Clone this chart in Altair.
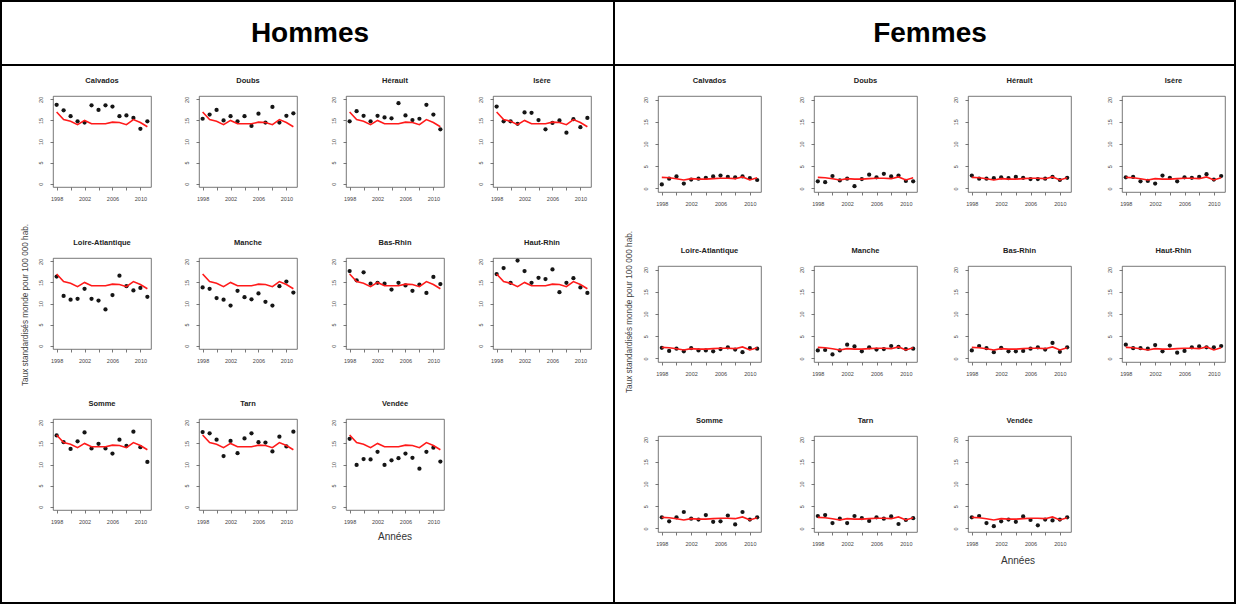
import altair as alt
import pandas as pd

# ---------------------------------------------------------------- data
YEARS = [1998, 1999, 2000, 2001, 2002, 2003, 2004, 2005, 2006, 2007, 2008, 2009, 2010, 2011]
TICK_YEARS = [1998, 2000, 2002, 2004, 2006, 2008, 2010]
Y_TICKS = [0, 5, 10, 15, 20]

DEPARTEMENTS = ["Calvados", "Doubs", "Hérault", "Isère",
                "Loire-Atlantique", "Manche", "Bas-Rhin", "Haut-Rhin",
                "Somme", "Tarn", "Vendée"]

# reference curve (red line) for each sex
REF_HOMMES = [17.0, 15.2, 14.8, 14.0, 15.0, 14.2, 14.2, 14.2, 14.6, 14.5, 14.0, 15.2, 14.5, 13.5]
REF_FEMMES = [2.5, 2.4, 2.2, 1.9, 2.2, 2.1, 2.1, 2.2, 2.3, 2.3, 2.2, 2.6, 1.9, 2.4]

# men, standardised rates per department
H_CALVADOS = [18.7, 17.4, 16.0, 14.8, 14.5, 18.6, 17.5, 18.6, 18.3, 16.0, 16.2, 15.6, 13.0, 14.8]
H_DOUBS = [15.4, 16.4, 17.5, 15.0, 16.0, 14.8, 16.0, 13.7, 16.6, 14.5, 18.2, 14.5, 16.1, 16.7]
H_HERAULT = [14.8, 17.2, 16.1, 14.8, 16.1, 15.7, 15.5, 19.1, 16.2, 15.1, 15.4, 18.7, 16.4, 12.9]
H_ISERE = [18.3, 14.8, 14.8, 14.2, 16.9, 16.8, 15.1, 12.9, 14.4, 15.0, 12.1, 15.3, 13.4, 15.6]
H_LOIRE_ATL = [16.4, 11.8, 10.9, 11.1, 13.5, 11.1, 10.7, 8.6, 12.0, 16.6, 14.1, 13.1, 13.7, 11.6]
H_MANCHE = [13.8, 13.5, 11.3, 10.9, 9.5, 13.0, 11.5, 11.0, 12.4, 10.4, 9.5, 14.1, 15.2, 12.6]
H_BAS_RHIN = [17.7, 15.5, 17.4, 14.7, 14.9, 14.7, 13.3, 14.9, 14.3, 13.0, 14.5, 12.5, 16.3, 14.6]
H_HAUT_RHIN = [17.0, 18.4, 14.9, 20.2, 17.7, 14.9, 16.1, 15.8, 18.1, 12.7, 14.9, 16.0, 13.8, 12.5]
H_SOMME = [16.9, 15.3, 13.7, 15.5, 17.6, 13.8, 14.9, 13.8, 12.6, 15.9, 14.4, 17.8, 14.1, 10.6]
H_TARN = [17.7, 17.4, 15.9, 12.0, 15.6, 12.7, 16.2, 17.4, 15.3, 15.2, 13.1, 16.6, 14.3, 17.8]
H_VENDEE = [16.1, 9.9, 11.3, 11.2, 13.0, 9.9, 11.0, 11.5, 12.6, 11.6, 9.0, 13.0, 14.0, 10.7]

# women, standardised rates per department
F_CALVADOS = [0.9, 2.2, 2.7, 1.1, 2.0, 2.2, 2.4, 2.7, 2.9, 2.6, 2.5, 2.7, 2.3, 1.9]
F_DOUBS = [1.6, 1.4, 2.8, 1.8, 2.2, 0.5, 2.1, 3.1, 2.5, 3.3, 2.7, 2.9, 1.7, 1.6]
F_HERAULT = [2.9, 2.2, 2.2, 2.3, 2.5, 2.3, 2.6, 2.4, 2.1, 2.1, 2.2, 2.6, 1.9, 2.4]
F_ISERE = [2.5, 2.6, 1.6, 1.7, 1.1, 2.9, 2.4, 1.6, 2.5, 2.4, 2.6, 3.2, 2.0, 2.8]
F_LOIRE_ATL = [2.4, 1.7, 2.2, 1.6, 2.3, 1.8, 1.8, 1.6, 2.1, 2.5, 2.0, 1.4, 2.3, 2.2]
F_MANCHE = [1.8, 1.9, 0.9, 1.8, 3.1, 2.7, 1.6, 2.5, 2.0, 2.1, 2.8, 2.6, 2.1, 2.2]
F_BAS_RHIN = [1.8, 2.8, 2.3, 1.4, 2.4, 1.6, 1.6, 1.7, 2.2, 2.5, 2.0, 3.5, 1.5, 2.5]
F_HAUT_RHIN = [3.1, 2.3, 2.3, 2.2, 3.0, 1.6, 2.9, 1.3, 1.7, 2.5, 2.7, 2.5, 2.5, 2.8]
F_SOMME = [2.5, 1.6, 2.5, 3.7, 2.2, 2.0, 3.0, 1.5, 1.6, 2.9, 0.9, 3.7, 2.0, 2.5]
F_TARN = [2.8, 3.0, 1.2, 2.2, 1.2, 2.8, 2.3, 1.7, 2.5, 2.2, 2.7, 1.0, 1.9, 2.3]
F_VENDEE = [2.5, 2.8, 1.2, 0.5, 1.6, 2.0, 1.5, 2.7, 1.9, 0.7, 2.0, 1.8, 2.0, 2.5]

HOMMES = [H_CALVADOS, H_DOUBS, H_HERAULT, H_ISERE, H_LOIRE_ATL, H_MANCHE,
          H_BAS_RHIN, H_HAUT_RHIN, H_SOMME, H_TARN, H_VENDEE]
FEMMES = [F_CALVADOS, F_DOUBS, F_HERAULT, F_ISERE, F_LOIRE_ATL, F_MANCHE,
          F_BAS_RHIN, F_HAUT_RHIN, F_SOMME, F_TARN, F_VENDEE]

Y_TITLE = "Taux standardisés monde pour 100 000 hab."
X_TITLE = "Années"
FONT = "Liberation Sans"

# ---------------------------------------------------------------- layout
H_W, H_H = 98, 91      # men panels
F_W, F_H = 103, 96     # women panels
COLS_MEN = [53, H_W, 48, H_W, 49, H_W, 49, H_W]
ROWS_MEN = [96, H_H, 71, H_H, 70, H_H]
COLS_WOMEN = [43, F_W, 53, F_W, 51, F_W, 51, F_W]
ROWS_WOMEN = [96, F_H, 74, F_H, 74, F_H]
PANEL_COLS = [1, 3, 5, 7]
PANEL_ROWS = [1, 3, 5]

one = pd.DataFrame({"k": [0]})


def x_enc(field):
    return alt.X(
        f"{field}:Q",
        scale=alt.Scale(domain=[1997.48, 2011.52], nice=False, zero=False),
        axis=alt.Axis(values=TICK_YEARS, format="d",
                      labelExpr="datum.value % 4 == 2 ? datum.label : ''",
                      title=None, domain=False, grid=False, tickSize=3,
                      tickColor="#555", tickWidth=0.8, labelFontSize=5.5,
                      labelColor="#444", labelFont=FONT, labelPadding=6,
                      labelOverlap=False, labelFlush=False),
    )


def y_enc(field):
    return alt.Y(
        f"{field}:Q",
        scale=alt.Scale(domain=[-0.8, 20.8], nice=False, zero=False),
        axis=alt.Axis(values=Y_TICKS, title=None, domain=False, grid=False,
                      tickSize=3, tickColor="#555", tickWidth=0.8,
                      labelFontSize=5.5, labelColor="#444", labelFont=FONT,
                      labelAngle=270, labelAlign="center", labelBaseline="bottom",
                      labelPadding=7, labelOverlap=False, labelFlush=False),
    )


def panel(name, values, ref, w, h):
    df = pd.DataFrame({"annee": YEARS, "taux": values, "reference": ref})
    pts = alt.Chart(df).mark_circle(size=18, color="#151515", opacity=1).encode(
        x=x_enc("annee"), y=y_enc("taux"))
    line = alt.Chart(df).mark_line(color="#ff1a1a", strokeWidth=1.6).encode(
        x=x_enc("annee"), y=y_enc("reference"))
    return alt.layer(pts, line).properties(
        width=w, height=h,
        title=alt.TitleParams(name, fontSize=7.5, fontWeight="bold", font=FONT,
                              color="#222", offset=12, anchor="middle"),
        view=alt.ViewBackground(stroke="#555", strokeWidth=0.8),
    )


def spacer(w, h):
    return alt.Chart(one).mark_text(text="", opacity=0, baseline="middle").encode(
        x=alt.value(w / 2), y=alt.value(h / 2)
    ).properties(width=w, height=h, view=alt.ViewBackground(stroke="transparent"))


def bar(x0, x1, y0, y1):
    # filled rectangle used for the table rules
    return alt.Chart(one).mark_rect(color="black", strokeWidth=0).encode(
        x=alt.value(x0), x2=alt.value(x1), y=alt.value(y0), y2=alt.value(y1))


def label(txt, x, y, size, weight="normal", angle=0, color="black"):
    return alt.Chart(one).mark_text(
        text=txt, fontSize=size, fontWeight=weight, font=FONT, angle=angle,
        align="center", baseline="middle", color=color,
    ).encode(x=alt.value(x), y=alt.value(y))


def half(series, ref, cols, rows, decor_layers):
    decor = alt.layer(*decor_layers).properties(
        width=cols[0], height=rows[0], view=alt.ViewBackground(stroke="transparent"))
    cells = []
    for r, h in enumerate(rows):
        for c, w in enumerate(cols):
            if r == 0 and c == 0:
                cells.append(decor)
                continue
            if r in PANEL_ROWS and c in PANEL_COLS:
                idx = PANEL_ROWS.index(r) * 4 + PANEL_COLS.index(c)
                if idx < len(DEPARTEMENTS):
                    cells.append(panel(DEPARTEMENTS[idx], series[idx], ref, w, h))
                    continue
            cells.append(spacer(w, h))
    return alt.ConcatChart(concat=cells, columns=len(cols), spacing=0,
                           bounds="flush", align="each")


# left half: frame on the left, top, bottom and the middle divider
men_decor = [
    bar(0, 615, 0, 2), bar(0, 615, 64, 66), bar(0, 615, 602, 604),
    bar(0, 2, 0, 604), bar(613, 615, 0, 604),
    label("Hommes", 310, 34, 28, "bold"),
    label(Y_TITLE, 26, 305, 8.2, angle=270, color="#444"),
    label(X_TITLE, 395, 537, 10, color="#333"),
]
# right half (local coordinates start at the middle divider)
women_decor = [
    bar(0, 621, 0, 2), bar(0, 621, 64, 66), bar(0, 621, 602, 604),
    bar(619, 621, 0, 604),
    label("Femmes", 315, 34, 28, "bold"),
    label(Y_TITLE, 15, 312, 8.2, angle=270, color="#444"),
    label(X_TITLE, 403, 561, 10, color="#333"),
]

left = half(HOMMES, REF_HOMMES, COLS_MEN, ROWS_MEN, men_decor)
right = half(FEMMES, REF_FEMMES, COLS_WOMEN, ROWS_WOMEN, women_decor)

chart = alt.HConcatChart(hconcat=[left, right], spacing=0).properties(
    padding=0, background="white"
).configure_view(strokeWidth=0)

chart.save("out.html", embed_options={"renderer": "svg", "actions": False})
